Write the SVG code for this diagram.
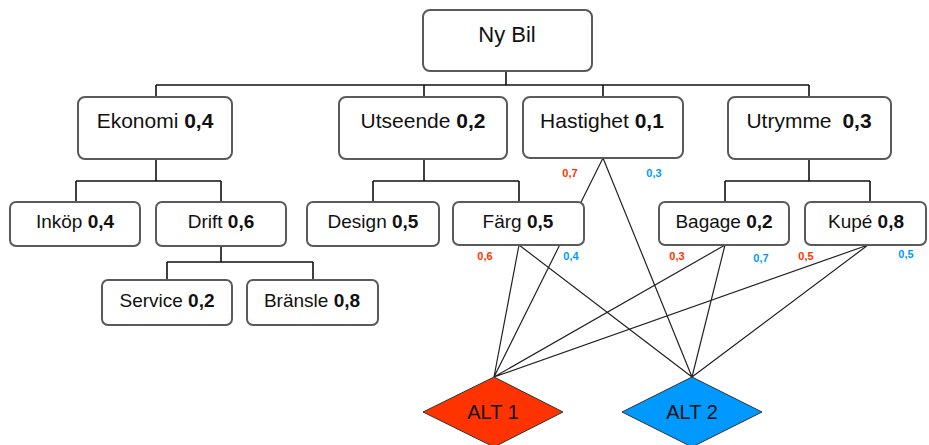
<svg xmlns="http://www.w3.org/2000/svg" width="929" height="445" viewBox="0 0 929 445">
<style>
.box{fill:#fff;stroke:#5a5a5a;stroke-width:2}
.t1{font-family:"Liberation Sans",Arial,sans-serif;font-size:21px;fill:#111;text-anchor:middle}
.t2{font-family:"Liberation Sans",Arial,sans-serif;font-size:19px;fill:#111;text-anchor:middle}
.b{font-weight:bold}
.tree{stroke:#111;stroke-width:1.6;fill:none}
.alt{stroke:#222;stroke-width:1.2;fill:none}
.w{font-family:"Liberation Sans",Arial,sans-serif;font-size:11px;font-weight:bold;text-anchor:middle}
.red{fill:#ff3300}
.blue{fill:#0099ff}
.dia{stroke:#333;stroke-width:1}
</style>
<rect width="929" height="445" fill="#fff"/>
<g id="connectors">
<path class="tree" d="M506 71V85M156 85H809M156 85V97M424 85V97M603 85V97M809 85V97"/>
<path class="tree" d="M156 159V181M76 181H221M76 181V202M221 181V202"/>
<path class="tree" d="M221 246V262M167 262H313M167 262V280M313 262V280"/>
<path class="tree" d="M424 159V181M373 181H519M373 181V202M519 181V202"/>
<path class="tree" d="M809 159V181M725 181H870M725 181V202M870 181V202"/>
<path class="alt" d="M603 158L494 377M603 158L692 377M519 245L494 377M519 245L692 377M725 245L494 377M725 245L692 377M868 245L494 377M868 245L692 377"/>
</g>
<g id="weights">
<text class="w red" x="570" y="177">0,7</text>
<text class="w blue" x="654" y="177">0,3</text>
<text class="w red" x="485" y="260">0,6</text>
<text class="w blue" x="571" y="260">0,4</text>
<text class="w red" x="677" y="260">0,3</text>
<text class="w blue" x="761" y="262">0,7</text>
<text class="w red" x="806" y="260">0,5</text>
<text class="w blue" x="906" y="258">0,5</text>
</g>
<g id="nybil"><rect class="box" x="423" y="10" width="169" height="61" rx="7"/><text class="t1" x="507" y="42" style="font-size:22px">Ny Bil</text></g>
<g id="ekonomi"><rect class="box" x="78" y="97" width="154" height="62" rx="7"/><text class="t1" x="155" y="128">Ekonomi <tspan class="b">0,4</tspan></text></g>
<g id="utseende"><rect class="box" x="339" y="97" width="168" height="62" rx="7"/><text class="t1" x="423" y="128">Utseende <tspan class="b">0,2</tspan></text></g>
<g id="hastighet"><rect class="box" x="523" y="97" width="160" height="61" rx="7"/><text class="t1" x="602" y="128">Hastighet <tspan class="b">0,1</tspan></text></g>
<g id="utrymme"><rect class="box" x="728" y="97" width="163" height="62" rx="7"/><text class="t1" x="809" y="128">Utrymme <tspan class="b" dx="5">0,3</tspan></text></g>
<g id="inkop"><rect class="box" x="10" y="202" width="130" height="44" rx="6"/><text class="t2" x="75" y="228">Inköp <tspan class="b">0,4</tspan></text></g>
<g id="drift"><rect class="box" x="156" y="202" width="130" height="44" rx="6"/><text class="t2" x="221" y="228">Drift <tspan class="b">0,6</tspan></text></g>
<g id="service"><rect class="box" x="102" y="280" width="130" height="45" rx="6"/><text class="t2" x="167" y="307">Service <tspan class="b">0,2</tspan></text></g>
<g id="bransle"><rect class="box" x="247" y="280" width="131" height="45" rx="6"/><text class="t2" x="312" y="307">Bränsle <tspan class="b">0,8</tspan></text></g>
<g id="design"><rect class="box" x="307" y="202" width="132" height="44" rx="6"/><text class="t2" x="373" y="228">Design <tspan class="b">0,5</tspan></text></g>
<g id="farg"><rect class="box" x="453" y="202" width="131" height="43" rx="6"/><text class="t2" x="518" y="228">Färg <tspan class="b">0,5</tspan></text></g>
<g id="bagage"><rect class="box" x="659" y="202" width="130" height="43" rx="6"/><text class="t2" x="724" y="228">Bagage <tspan class="b">0,2</tspan></text></g>
<g id="kupe"><rect class="box" x="805" y="202" width="121" height="43" rx="6"/><text class="t2" x="866" y="228">Kupé <tspan class="b">0,8</tspan></text></g>
<g id="alt1"><polygon class="dia" fill="#ff3300" points="494,377 563,412 494,447 423,412"/><text class="t1" x="493" y="419" style="font-size:20px">ALT 1</text></g>
<g id="alt2"><polygon class="dia" fill="#0099ff" points="692,377 762,412 692,447 622,412"/><text class="t1" x="692" y="419" style="font-size:20px">ALT 2</text></g>
</svg>
